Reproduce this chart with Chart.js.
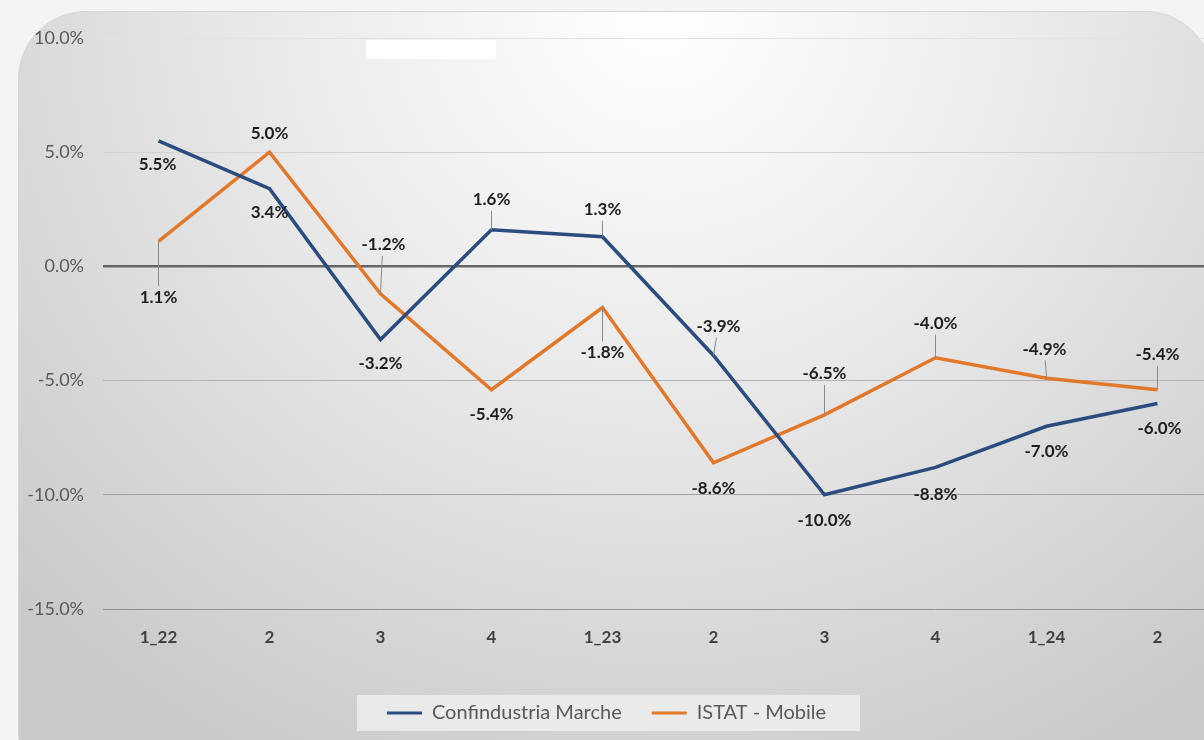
<!DOCTYPE html>
<html lang="it">
<head>
  <meta charset="UTF-8">
  <title>Confindustria Marche / ISTAT - Mobile</title>
  <style>
    body {
      margin: 0;
      width: 1204px;
      height: 740px;
      overflow: hidden;
      position: relative;
      background: #f4f4f4;
      font-family: Lato, 'Open Sans', sans-serif;
    }
    /* pannello arrotondato con sfumatura */
    .panel {
      position: absolute;
      left: 18px;
      top: 11px;
      width: 1195px;
      height: 790px;
      box-sizing: border-box;
      border: 1px solid #d6d6d6;
      border-radius: 68px;
      background: radial-gradient(ellipse 880px 840px at 640px 0px, #ffffff 0%, #ececec 40%, #d8d8d8 75%, #cacaca 100%);
    }
    .patch {
      position: absolute;
      left: 366px;
      top: 40px;
      width: 130px;
      height: 19px;
      background: #ffffff;
    }
    .chart-box {
      position: absolute;
      left: 0;
      top: 0;
      width: 1260px;
      height: 740px;
    }
  </style>
</head>
<body>
  <div class="panel"></div>
  <div class="patch"></div>
  <div class="chart-box"><canvas id="trendChart"></canvas></div>

  <script src="https://cdn.jsdelivr.net/npm/chart.js"></script>
  <script>
    // dati
    const categories = ['1_22', '2', '3', '4', '1_23', '2', '3', '4', '1_24', '2'];
    const confindustria = [5.5, 3.4, -3.2, 1.6, 1.3, -3.9, -10.0, -8.8, -7.0, -6.0];
    const istatMobile = [1.1, 5.0, -1.2, -5.4, -1.8, -8.6, -6.5, -4.0, -4.9, -5.4];
    const seriesNames = ['Confindustria Marche', 'ISTAT - Mobile'];
    const yMin = -15, yMax = 10, yStep = 5;

    // spostamento delle etichette [dx, dy] in px
    const confLabelShift = [[-1, 24], [0, 24], [0, 24], [0, -30], [0, -27], [5, -29], [0, 26], [0, 27], [0, 25], [2, 25]];
    const istatLabelShift = [[0, 56], [0, -19], [3, -49], [0, 25], [0, 45], [0, 26], [0, -41], [0, -34], [-2, -29], [0, -35]];

    const fmt = v => v.toFixed(1) + '%';

    const gridColors = { '10': '#e2e2e2', '5': '#d2d2d2', '0': '#666666', '-5': '#b4b4b4', '-10': '#a2a2a2', '-15': '#939393' };

    // etichette dei valori con linee guida
    const valueLabels = {
      id: 'valueLabels',
      afterDatasetsDraw(chart) {
        const ctx = chart.ctx;
        ctx.save();
        ctx.font = 'bold 17px Lato, sans-serif';
        ctx.textAlign = 'center';
        ctx.textBaseline = 'middle';
        chart.data.datasets.forEach((ds, i) => {
          const meta = chart.getDatasetMeta(i);
          const shifts = i === 0 ? confLabelShift : istatLabelShift;
          meta.data.forEach((pt, j) => {
            const [dx, dy] = shifts[j];
            const lx = pt.x + dx, ly = pt.y + dy;
            if (dy < -25 || dy > 30) {
              const edge = dy < 0 ? ly + 11 : ly - 11;
              ctx.strokeStyle = '#8a8a8a';
              ctx.lineWidth = 1;
              ctx.beginPath();
              ctx.moveTo(pt.x, pt.y);
              ctx.lineTo(pt.x + dx * 0.6, edge);
              ctx.stroke();
            }
            ctx.fillStyle = '#1e1e1e';
            ctx.fillText(fmt(ds.data[j]), lx, ly);
          });
        });
        ctx.restore();
      }
    };

    // riquadro dietro la legenda
    const legendBox = {
      id: 'legendBox',
      beforeDraw(chart) {
        const lg = chart.legend;
        if (!lg || !lg.legendHitBoxes || !lg.legendHitBoxes.length) return;
        const boxes = lg.legendHitBoxes;
        const x0 = Math.min(...boxes.map(b => b.left)) - 30;
        const x1 = Math.max(...boxes.map(b => b.left + b.width)) + 34;
        const y0 = Math.min(...boxes.map(b => b.top)) - 8;
        const y1 = Math.max(...boxes.map(b => b.top + b.height)) + 8;
        const ctx = chart.ctx;
        ctx.save();
        ctx.fillStyle = 'rgba(242,242,242,0.75)';
        ctx.fillRect(x0, y0, x1 - x0, y1 - y0);
        ctx.restore();
      }
    };

    const ctx = document.getElementById('trendChart').getContext('2d');
    new Chart(ctx, {
      type: 'line',
      data: {
        labels: categories,
        datasets: [{
          label: seriesNames[0],
          data: confindustria,
          borderColor: '#2b4c7e',
          backgroundColor: '#2b4c7e',
          borderWidth: 3.5,
          pointRadius: 0,
          tension: 0
        }, {
          label: seriesNames[1],
          data: istatMobile,
          borderColor: '#e2782a',
          backgroundColor: '#e2782a',
          borderWidth: 3.5,
          pointRadius: 0,
          tension: 0
        }]
      },
      options: {
        responsive: true,
        maintainAspectRatio: false,
        animation: false,
        layout: { padding: { top: 38, right: 47, left: 0, bottom: 7 } },
        scales: {
          x: {
            offset: true,
            grid: { display: false },
            border: { display: false },
            ticks: {
              color: '#404040',
              font: { family: 'Lato', size: 17, weight: 'bold' },
              padding: 10,
              maxRotation: 0,
              autoSkip: false
            },
            afterFit: s => { s.height = 64; }
          },
          y: {
            min: yMin,
            max: yMax,
            border: { display: false },
            grid: {
              drawTicks: false,
              color: c => gridColors[String(c.tick.value)] || '#c8c8c8',
              lineWidth: c => c.tick.value === 0 ? 2.5 : 1
            },
            ticks: {
              stepSize: yStep,
              color: '#595959',
              font: { family: 'Lato', size: 18 },
              padding: 19,
              callback: v => fmt(v)
            },
            afterFit: s => { s.width = 103; }
          }
        },
        plugins: {
          tooltip: { enabled: false },
          legend: {
            position: 'bottom',
            labels: {
              color: '#595959',
              font: { family: 'Lato', size: 20 },
              boxWidth: 35,
              boxHeight: 3,
              padding: 30,
              generateLabels: chart => chart.data.datasets.map((ds, i) => ({
                text: ds.label,
                fillStyle: ds.borderColor,
                strokeStyle: ds.borderColor,
                lineWidth: 0,
                fontColor: '#595959',
                datasetIndex: i
              }))
            }
          }
        }
      },
      plugins: [legendBox, valueLabels]
    });
  </script>
</body>
</html>
